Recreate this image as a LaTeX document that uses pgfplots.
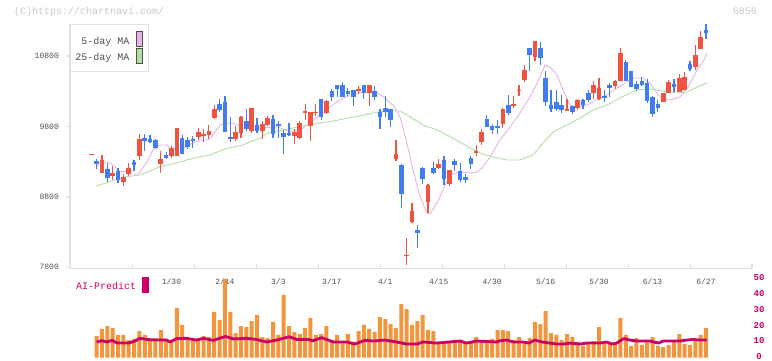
\documentclass[border=0pt]{standalone}
\usepackage{pgfplots}
\pgfplotsset{compat=1.18}
\usepackage{pgfplotstable}
\usepackage{fontspec}
\setmainfont{Liberation Sans}
\setmonofont{Liberation Mono}
\definecolor{cRed}{RGB}{240,84,64}
\definecolor{cBlue}{RGB}{66,125,240}
\definecolor{maPink}{RGB}{232,180,232}
\definecolor{maGreen}{RGB}{180,220,165}
\definecolor{volOrange}{RGB}{242,150,62}
\definecolor{aiCrimson}{RGB}{204,0,102}
\definecolor{axisgray}{RGB}{224,224,224}
\definecolor{labelgray}{RGB}{80,80,80}
\definecolor{wmgray}{RGB}{200,200,200}

\pgfplotstableread{
i o h l c
0 9400 9415 9400 9415
2 9143 9395 9143 9324
4 9101 9243 9040 9139
6 9016 9121 8959 9082
7 9125 9281 9096 9214
9 9385 9693 9324 9622
13 9271 9456 9143 9338
15 9385 9527 9348 9494
16 9385 9778 9385 9778
20 9655 9778 9608 9721
21 9669 9760 9584 9697
22 9683 9820 9626 9735
23 9920 10105 9906 10048
27 9622 9806 9598 9721
28 9707 9953 9636 9934
30 9735 10066 9711 10057
32 9740 9877 9626 9835
33 9820 9948 9806 9924
38 9669 9760 9551 9726
39 9636 9877 9622 9849
40 9996 10123 9892 10020
41 9811 10010 9598 10010
42 9987 10123 9948 10010
44 9991 10176 9977 10162
50 10304 10375 10261 10332
52 10280 10393 10095 10393
57 9338 9608 9310 9409
59 7955 8216 7833 7968
60 8443 8713 8429 8599
63 8727 8983 8571 8968
65 9210 9338 9196 9267
67 8983 9182 8954 9182
72 9423 9537 9380 9452
73 9579 9764 9537 9721
77 9835 10062 9778 10048
79 10091 10233 10062 10119
80 10304 10389 10233 10318
81 10460 10673 10432 10602
83 10787 11014 10730 11014
89 10020 10190 10020 10048
91 10062 10190 10034 10176
94 10275 10446 10190 10389
95 10190 10488 10176 10346
98 10375 10460 10332 10446
99 10446 10914 10446 10843
107 10148 10275 10148 10275
108 10275 10460 10275 10432
110 10290 10545 10290 10488
111 10318 10573 10318 10503
113 10645 10957 10602 10815
114 10900 11156 10900 11071
}\redtab

\pgfplotstableread{
i o h l c
1 9314 9342 9200 9271
3 9196 9285 9016 9072
5 9172 9210 9001 9040
8 9299 9324 9167 9253
10 9636 9693 9456 9598
11 9622 9679 9569 9579
12 9608 9618 9476 9498
14 9395 9442 9338 9356
17 9636 9679 9413 9413
18 9603 9650 9480 9513
19 9622 9665 9498 9598
24 10119 10190 10005 10034
25 10148 10233 9721 9721
26 9650 9934 9579 9622
29 9877 10048 9735 9764
31 9820 9924 9711 9735
34 9906 9962 9640 9697
35 9835 9877 9640 9806
36 9703 9750 9413 9655
37 9707 9849 9664 9678
43 10190 10190 9892 9939
45 10304 10332 10162 10223
46 10393 10393 10218 10336
47 10393 10435 10223 10223
48 10304 10346 10233 10261
49 10318 10318 10095 10223
51 10393 10393 10190 10280
53 10304 10375 10176 10218
54 10000 10048 9764 9939
55 10062 10233 9934 10005
56 10048 10048 9792 9892
58 9253 9267 8642 8841
61 8330 8401 8074 8287
62 9210 9224 8983 9054
64 9210 9295 9125 9139
66 9324 9380 8968 9054
68 9310 9338 9167 9253
69 9167 9281 9011 9040
70 9082 9125 8997 9040
71 9352 9380 9196 9267
74 9906 9962 9793 9793
75 9806 9835 9693 9750
76 9806 9892 9693 9778
78 10105 10247 9962 9991
82 10914 10914 10588 10815
84 10914 10999 10673 10773
85 10488 10588 10091 10148
86 10105 10318 10005 10048
87 10148 10318 10020 10048
88 10105 10247 9991 10034
90 10091 10091 9977 10005
92 10176 10190 10048 10105
93 10275 10318 10148 10176
96 10233 10318 10148 10204
97 10389 10418 10218 10346
100 10716 10744 10446 10446
101 10588 10588 10361 10361
102 10403 10446 10304 10332
103 10446 10503 10375 10389
104 10418 10474 10133 10162
105 10218 10233 9934 9977
106 10119 10176 10005 10062
109 10403 10474 10290 10361
112 10687 10730 10588 10616
115 11170 11255 11043 11128
}\bluetab

\pgfplotstableread{
i v
1 13.6
2 18.1
3 19.9
4 18.7
5 14.3
6 14.3
7 11.1
8 11.8
9 16.8
10 14.3
11 11.8
12 12.4
13 17.4
14 11.8
15 9.9
16 31.3
17 20.6
18 12.4
19 11.8
20 12.4
21 13.6
22 13.0
23 28.8
24 23.7
25 49.5
26 28.8
27 15.5
28 19.9
29 19.3
30 23.0
31 26.9
32 13.0
33 12.4
34 22.5
35 14.3
36 39.5
37 19.9
38 16.2
39 14.9
40 18.7
41 25.0
42 14.3
43 14.9
44 19.9
45 10.5
46 14.3
47 9.9
48 14.9
49 9.9
50 16.8
51 20.6
52 18.1
53 16.2
54 25.6
55 24.3
56 21.2
57 18.7
58 33.8
59 30.6
60 20.6
61 23.1
62 26.9
63 17.4
64 16.8
65 9.9
66 9.9
67 9.9
68 9.9
69 10.5
70 9.9
71 10.5
72 13.0
73 10.5
74 10.5
75 11.8
76 17.4
77 17.4
78 16.8
79 11.1
80 13.0
81 10.5
82 12.4
83 22.5
84 21.2
85 29.4
86 15.5
87 14.3
88 11.1
89 14.9
90 13.0
91 9.9
92 7.3
93 8.6
94 10.5
95 19.3
96 9.2
97 9.9
98 9.9
99 25.0
100 14.3
101 7.3
102 12.4
103 8.0
104 10.5
105 13.0
106 7.3
107 6.7
108 8.0
109 9.9
110 14.9
111 8.6
112 8.0
113 10.5
114 14.3
115 18.7
}\voltab

\begin{document}
\begin{tikzpicture}[x=1pt,y=1pt]
\path[use as bounding box] (0pt,0pt) rectangle (772pt,361pt);

% ---------------- main price axis ----------------
\begin{axis}[
  at={(70pt,92.7pt)}, anchor=south west,
  scale only axis, width=682pt, height=244pt,
  xmin=-3.985, xmax=123.61, ymin=7786, ymax=11250.8,
  clip=false,
  axis x line*=bottom, axis y line*=left,
  axis line style={-, draw=axisgray, line width=1.5pt},
  tick align=outside, major tick length=4.5pt,
  tick style={draw=axisgray, line width=1.3pt},
  xtick style={yshift=4.5pt},
  ytick={7800,8800,9800,10800},
  scaled y ticks=false,
  xtick={7.75,19.27,30.94,42.47,54.07,65.67,77.27,88.94,100.47,112.07,123.6},
  xticklabels={},
  extra x ticks={15,25,35,45,55,65,75,85,95,105,115},
  extra x tick labels={1/30,2/14,3/3,3/17,4/1,4/15,4/30,5/16,5/30,6/13,6/27},
  extra x tick style={major tick length=0pt,
     xticklabel style={font=\ttfamily\fontsize{8}{9}\selectfont, text=labelgray, yshift=-7pt}},
  /pgf/number format/assume math mode=true,
  /pgf/number format/1000 sep={},
  yticklabel style={font=\ttfamily\fontsize{8.1}{9}\selectfont, text=labelgray, xshift=-3pt},
]
% moving averages
\addplot[color=maPink, line width=0.9pt] coordinates {
(1.01,9238) (2.19,9285) (3.5,9285) (4.43,9229) (5.37,9158) (6.68,9158) (7.24,9125) (8.74,9125) (9.11,9158) (10.42,9300) (11.54,9466) (12.85,9537) (14.16,9537) (14.72,9490) (15.66,9466) (17.16,9490) (18.84,9561) (20.34,9608) (21.83,9608) (22.77,9679) (24.08,9821) (25.39,9845) (26.51,9845) (27.26,9821) (28.38,9821) (31.56,9774) (34.74,9797) (37.17,9726) (39.61,9774) (43.35,10000) (45.97,10150) (48.4,10247) (50.27,10285) (53.45,10285) (54.57,10223) (56.44,10105) (57.75,9939) (59.06,9565) (60.18,9182) (61.5,8803) (62.81,8571) (63.37,8557) (64.68,8713) (65.8,8898) (67.11,9111) (68.98,9153) (70.85,9139) (72.16,9153) (73.28,9224) (74.59,9366) (76.46,9608) (78.33,9792) (80.2,9991) (82.07,10218) (83.95,10502) (84.88,10673) (85.82,10644) (87.13,10531) (88.25,10318) (89.56,10105) (90.87,10076) (92.74,10105) (94.61,10190) (96.48,10247) (98.35,10346) (100.22,10431) (101.34,10488) (103.21,10488) (104.52,10417) (105.83,10275) (106.77,10190) (108.27,10175) (110.14,10218) (111.64,10360) (113.32,10602) (114.44,10715) (115.19,10843)
};
\addplot[color=maGreen, line width=0.9pt] coordinates {
(0.88,8954) (3.5,9016) (6.68,9087) (9.11,9111) (12.85,9229) (16.03,9285) (19.03,9348) (22.21,9395) (25.39,9490) (28.38,9537) (29.7,9583) (31.56,9632) (32.87,9703) (35.87,9750) (39.05,9797) (42.23,9845) (45.23,9877) (48.4,9924) (51.59,9973) (54.02,10010) (55.89,10019) (57.75,10019) (59.63,9939) (62.06,9821) (64.68,9750) (66.55,9679) (68.98,9579) (70.85,9494) (72.72,9423) (75.15,9366) (77.77,9324) (80.2,9324) (82.63,9395) (84.51,9565) (86.38,9721) (89,9821) (91.43,9920) (93.86,10034) (96.48,10105) (98.91,10204) (100.78,10275) (102.09,10318) (104.52,10332) (106.96,10303) (109.58,10275) (111.45,10289) (113.32,10360) (115.19,10417)
};
% candles: wicks
\addplot[draw=none, forget plot, error bars/.cd, y dir=plus, y explicit, error mark=none,
  error bar style={draw=cRed, line width=1.2pt}]
  table[x=i, y=l, y error expr=\thisrow{h}-\thisrow{l}] {\redtab};
\addplot[draw=none, forget plot, error bars/.cd, y dir=plus, y explicit, error mark=none,
  error bar style={draw=cBlue, line width=1.2pt}]
  table[x=i, y=l, y error expr=\thisrow{h}-\thisrow{l}] {\bluetab};
% candles: bodies
\addplot[draw=none, forget plot, error bars/.cd, y dir=plus, y explicit, error mark=none,
  error bar style={draw=cRed, line width=4.6pt}]
  table[x=i, y=o, y error expr=\thisrow{c}-\thisrow{o}] {\redtab};
\addplot[draw=none, forget plot, error bars/.cd, y dir=plus, y explicit, error mark=none,
  error bar style={draw=cBlue, line width=4.6pt}]
  table[x=i, y=c, y error expr=\thisrow{o}-\thisrow{c}] {\bluetab};
\end{axis}

% ---------------- lower volume / AI axis ----------------
\begin{axis}[
  at={(70pt,3.3pt)}, anchor=south west,
  scale only axis, width=682pt, height=79.4pt,
  xmin=-3.985, xmax=123.61, ymin=0, ymax=50,
  clip=false,
  axis x line=none, axis y line*=right,
  axis line style={draw=none},
  ytick={0,10,20,30,40,50},
  ytick style={draw=none}, major tick length=0pt,
  /pgf/number format/assume math mode=true,
  yticklabel style={font=\ttfamily\bfseries\fontsize{9}{10}\selectfont, text=aiCrimson, anchor=center, xshift=7pt, yshift=0.8pt},
]
\addplot[ybar, bar width=4pt, fill=volOrange, draw=none] table[x=i, y=v] {\voltab};
\addplot[color=aiCrimson, line width=2.8pt, line join=round] coordinates {
(1,9.9) (2,10.7) (2.9,9.9) (3.9,10.9) (4.9,9.2) (6.9,9.2) (7.9,10.1) (9.1,12.2) (10.4,11.5) (12.2,11.1) (14.1,11.1) (14.7,9.9) (16,12.0) (17.8,12.2) (19.7,11.1) (21,12.2) (22.8,10.9) (25.1,13.4) (26.6,11.8) (29.1,12.2) (30.9,11.5) (32.8,9.9) (34.7,11.1) (37,13.2) (38.4,11.5) (40.6,11.5) (41.5,10.7) (43.1,12.6) (45.3,9.9) (47.8,9.9) (49.3,8.6) (51.2,10.9) (52.8,10.5) (54.9,11.1) (57.1,9.9) (59,8.6) (60.9,8.6) (62.1,9.9) (64.6,9.2) (69,10.5) (70.2,9.2) (72.1,10.5) (75.8,9.9) (76.5,10.7) (77.7,11.1) (79,9.9) (80.8,9.9) (81.8,9.2) (83,11.1) (84.3,9.9) (85.8,9.2) (87.1,8.6) (88.3,8.6) (89.6,9.2) (91.4,8.6) (92.7,9.2) (95.2,9.2) (96.4,9.9) (97.4,8.6) (98.3,9.2) (99.6,12) (100.8,11.1) (102,10.5) (104.5,10.5) (106.1,9.2) (107,10.5) (110.1,10.5) (111.4,11.1) (112.6,11.5) (113.8,11.1) (115.1,11.1)
};
\end{axis}

% ---------------- legend and texts ----------------
\draw[draw=axisgray, line width=1pt, fill=white] (70.3pt,289.7pt) rectangle (148.3pt,336.7pt);
\node[anchor=base east, inner sep=0pt, font=\ttfamily\fontsize{10}{12}\selectfont, text=labelgray] at (129.5pt,316.9pt) {5-day MA};
\node[anchor=base east, inner sep=0pt, font=\ttfamily\fontsize{10}{12}\selectfont, text=labelgray] at (129.5pt,300.1pt) {25-day MA};
\draw[fill=maPink, draw=labelgray, line width=0.8pt] (136.3pt,314.3pt) rectangle (142.3pt,329.7pt);
\draw[fill=maGreen, draw=labelgray, line width=0.8pt] (136.3pt,297.7pt) rectangle (142.3pt,312.7pt);

\node[anchor=base west, inner sep=0pt, font=\ttfamily\fontsize{10}{12}\selectfont, text=aiCrimson] at (76pt,71.9pt) {AI-Predict};
\fill[aiCrimson] (142.3pt,68.3pt) rectangle (148.7pt,83.7pt);

\node[anchor=base west, inner sep=0pt, font=\ttfamily\fontsize{10}{12}\selectfont, text=wmgray] at (14pt,346pt) {(C)https://chartnavi.com/};
\node[anchor=base east, inner sep=0pt, font=\ttfamily\fontsize{10}{12}\selectfont, text=wmgray] at (757pt,346pt) {6856};
\end{tikzpicture}
\end{document}
